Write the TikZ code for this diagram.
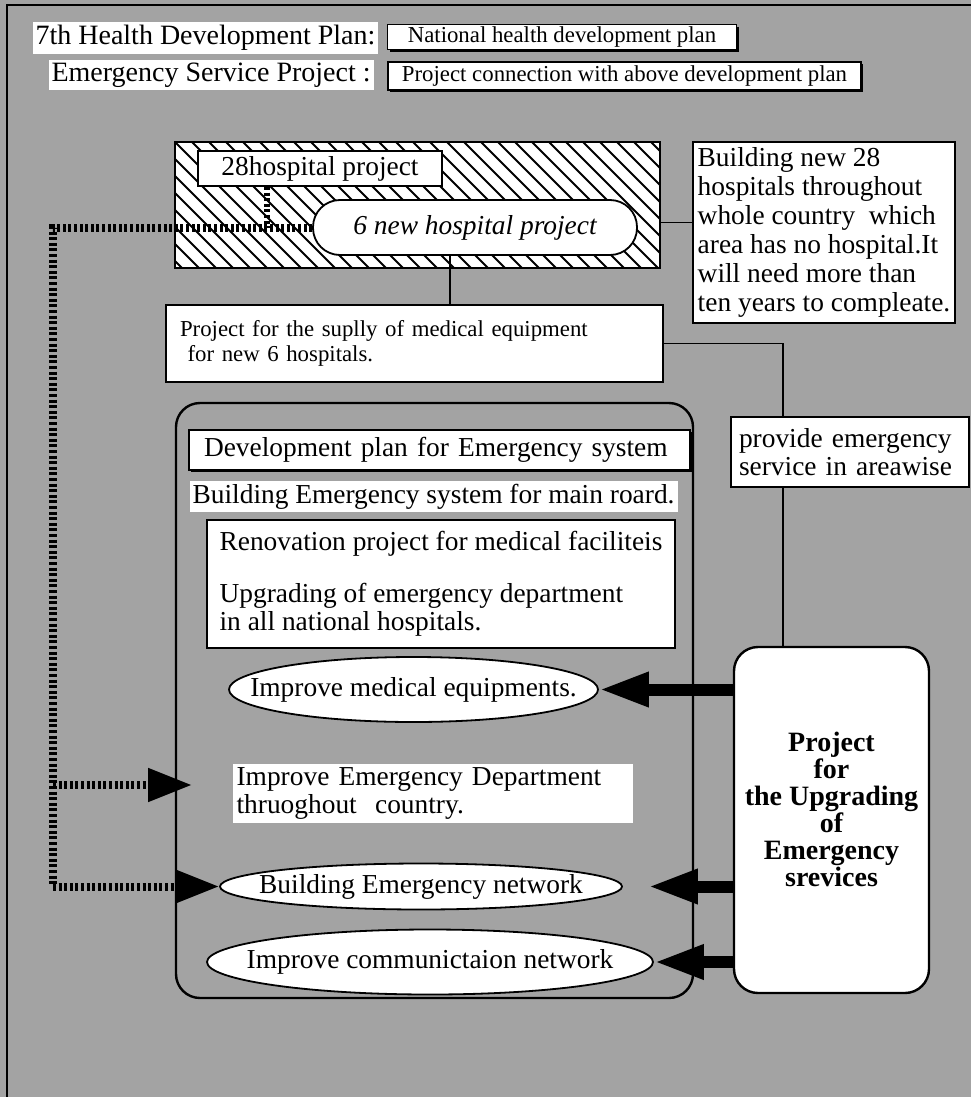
\documentclass[tikz,border=0pt]{standalone}
\usepackage{fontspec}
\setmainfont{Liberation Serif}
\usetikzlibrary{arrows.meta,shapes.geometric,shadows}
\newcommand{\txtbig}{\fontsize{13.7pt}{14pt}\selectfont}
\newcommand{\txtsmall}{\fontsize{11.4pt}{12.5pt}\selectfont}
\newcommand{\txttitle}{\fontsize{14pt}{15pt}\selectfont}
\definecolor{screen}{gray}{0.64}

\begin{document}
\begin{tikzpicture}[x=0.5pt,y=-0.5pt,line width=0.6pt,
	txtbox/.style={draw,fill=white,inner sep=0pt,line width=0.9pt},
	shbox/.style={txtbox,drop shadow={shadow xshift=1.2pt,shadow yshift=-1.2pt,fill=black,opacity=1}},
	whitetxt/.style={fill=white,inner sep=1.5pt,font=\txtbig},
	oval/.style={ellipse,draw,fill=white,inner sep=0pt,line width=0.9pt,font=\txtbig},
	dotline/.style={line width=4pt,dash pattern=on 1.5pt off 1.3pt},
	dotarrow/.style={dotline,-{Triangle[length=22pt,width=16pt]}},
	fatarrow/.style={line width=6pt,-{Triangle[length=25pt,width=16pt]}}]
		\useasboundingbox (0,0) rectangle (971,1097);
		\fill[screen] (0,0) rectangle (971,1097);
		\draw[line width=1pt] (7,1097) -- (7,5) -- (971,5);
		\node[whitetxt,font=\txttitle,anchor=west] (plan7) at (32,38) {7th Health Development Plan:};
		\node[shbox,minimum width=174.5pt,minimum height=12.5pt,font=\txtsmall] (natl) at (562,37) {National health development plan};
		\node[whitetxt,font=\txttitle,anchor=west] (esp) at (48,75) {Emergency Service Project :};
		\node[shbox,minimum width=236.5pt,minimum height=14pt,font=\txtsmall] (prj) at (624.5,76) {Project connection with above development plan};
		\node[draw,fill=white,minimum width=242.5pt,minimum height=63pt,inner sep=0pt,line width=1pt,
			path picture={\foreach \i in {-8,...,29} \draw[line width=0.9pt] ([xshift=\i*8.5pt]path picture bounding box.north west) -- ++(63pt,-63pt);}] (hatch) at (417.5,205) {};
		\node[txtbox,minimum width=122pt,minimum height=17.5pt,font=\txtbig] (h28) at (320,168.5) {28hospital project};
		\node[txtbox,rounded corners=13.5pt,minimum width=162pt,minimum height=27.5pt,font=\txtbig\itshape] (new6) at (475,227.5) {6 new hospital project};
		\node[txtbox,align=left,minimum width=131pt,minimum height=90.5pt,font=\fontsize{13.7pt}{14.5pt}\selectfont] (b28) at (824,232.5) {Building new 28\\hospitals throughout\\whole country\ \ which\\area has no hospital.It\\will need more than\\ten years to compleate.};
		\node[txtbox,text width=234.5pt,align=left,inner xsep=7pt,minimum height=38.5pt,font=\txtsmall] (sup) at (414.5,343.5) {Project for the suplly of medical equipment\\\ for new 6 hospitals.};
		\node[txtbox,text width=111pt,align=left,inner xsep=4pt,minimum height=35pt,font=\txtbig] (pae) at (850,452) {provide emergency\\service in areawise};
		\node[draw,rounded corners=12pt,line width=1.2pt,minimum width=258.5pt,minimum height=297.5pt] (cont) at (434.5,700.5) {};
		\node[shbox,text width=235.5pt,align=left,inner xsep=7.5pt,minimum height=20pt,font=\txtbig] (dev) at (439.5,450) {Development plan for Emergency system};
		\node[whitetxt,anchor=west] (bes) at (189,496.5) {Building Emergency system for main roard.};
		\node[txtbox,align=left,minimum width=234pt,minimum height=64pt,font=\txtbig] (ren) at (441,584) {Renovation project for medical faciliteis\\[12pt]Upgrading of emergency department\\in all national hospitals.};
		\node[oval,minimum width=184.5pt,minimum height=32.5pt] (ime) at (413.5,689.5) {\makebox[0pt]{Improve medical equipments.}};
		\node[whitetxt,anchor=north west,text width=196pt,align=left,inner sep=2pt] (emdep) at (232,763) {Improve Emergency Department\\thruoghout\ \ country.};
		\node[oval,minimum width=201pt,minimum height=23pt] (bnet) at (421,886.5) {\makebox[0pt]{Building Emergency network}};
		\node[oval,minimum width=223pt,minimum height=32.5pt] (icn) at (430,962) {\makebox[0pt]{Improve communictaion network}};
		\node[draw,fill=white,rounded corners=12pt,line width=1.2pt,minimum width=97.5pt,minimum height=173pt,text depth=11pt,align=center,font=\bfseries\fontsize{14pt}{13.5pt}\selectfont] (upg) at (831.5,820) {Project\\for\\the Upgrading\\of\\Emergency\\srevices};
		\coordinate (rail) at (53,0);
		\coordinate (vline) at (783,0);
		\coordinate (edtip) at (192,785);
		\draw ([yshift=5pt]b28.west) -- ([yshift=5pt]b28.west -| hatch.east);
		\draw ([xshift=-12.5pt]new6.south) -- ([xshift=-12.5pt]new6.south |- sup.north);
		\draw (sup.east) -- (sup.east -| vline) -- (vline |- pae.north);
		\draw (vline |- pae.south) -- (vline |- upg.north);
		\draw[dotline,line width=3pt] ([xshift=-26.5pt]h28.south) -- ([xshift=-26.5pt]h28.south |- new6.west);
		\draw[dotline] (new6.west) -- (rail |- new6.west) -- (rail |- bnet.west);
		\draw[dotarrow] (rail |- edtip) -- (edtip);
		\draw[dotarrow] (rail |- bnet.west) -- (bnet.west);
		\draw[fatarrow] (upg.west |- ime.east) -- (ime.east);
		\draw[fatarrow,shorten >=12.5pt] (upg.west |- bnet.east) -- (bnet.east);
		\draw[fatarrow] (upg.west |- icn.east) -- (icn.east);
\end{tikzpicture}
\end{document}
